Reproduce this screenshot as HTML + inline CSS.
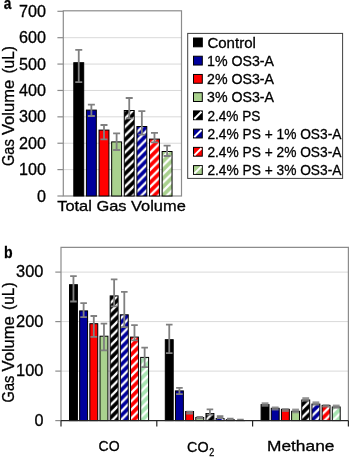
<!DOCTYPE html><html><head><meta charset="utf-8"><style>html,body{margin:0;padding:0;background:#fff;width:350px;height:457px;overflow:hidden}svg{display:block;filter:blur(0.35px)}text{font-family:"Liberation Sans",sans-serif;stroke:#000;stroke-width:0.3px}</style></head><body><svg width="350" height="457" viewBox="0 0 350 457" font-family='"Liberation Sans", sans-serif' fill="#000"><defs><pattern id="pk" patternUnits="userSpaceOnUse" x="5.5" y="0" width="8.5" height="8.5"><rect width="8.5" height="8.5" fill="#000"/><polygon points="6.9,0 8.5,0 8.5,1.6 1.6,8.5 0,8.5 0,6.9" fill="#fff"/><polygon points="0,0 1.6,0 0,1.6" fill="#fff"/><polygon points="8.5,8.5 6.9,8.5 8.5,6.9" fill="#fff"/></pattern><pattern id="pb" patternUnits="userSpaceOnUse" x="5.5" y="0" width="8.5" height="8.5"><rect width="8.5" height="8.5" fill="#00009c"/><polygon points="6.9,0 8.5,0 8.5,1.6 1.6,8.5 0,8.5 0,6.9" fill="#fff"/><polygon points="0,0 1.6,0 0,1.6" fill="#fff"/><polygon points="8.5,8.5 6.9,8.5 8.5,6.9" fill="#fff"/></pattern><pattern id="pr" patternUnits="userSpaceOnUse" x="5.5" y="0" width="8.5" height="8.5"><rect width="8.5" height="8.5" fill="#ff0000"/><polygon points="6.9,0 8.5,0 8.5,1.6 1.6,8.5 0,8.5 0,6.9" fill="#fff"/><polygon points="0,0 1.6,0 0,1.6" fill="#fff"/><polygon points="8.5,8.5 6.9,8.5 8.5,6.9" fill="#fff"/></pattern><pattern id="pg" patternUnits="userSpaceOnUse" x="5.5" y="0" width="8.5" height="8.5"><rect width="8.5" height="8.5" fill="#a9d18e"/><polygon points="6.9,0 8.5,0 8.5,1.6 1.6,8.5 0,8.5 0,6.9" fill="#fff"/><polygon points="0,0 1.6,0 0,1.6" fill="#fff"/><polygon points="8.5,8.5 6.9,8.5 8.5,6.9" fill="#fff"/></pattern><pattern id="pg2" patternUnits="userSpaceOnUse" x="5.5" y="0" width="8.5" height="8.5"><rect width="8.5" height="8.5" fill="#a8e4b2"/><polygon points="6.9,0 8.5,0 8.5,1.6 1.6,8.5 0,8.5 0,6.9" fill="#fff"/><polygon points="0,0 1.6,0 0,1.6" fill="#fff"/><polygon points="8.5,8.5 6.9,8.5 8.5,6.9" fill="#fff"/></pattern></defs><line x1="63.3" x2="181.5" y1="169.61" y2="169.61" stroke="#d9d9d9" stroke-width="1"/><line x1="63.3" x2="181.5" y1="143.23" y2="143.23" stroke="#d9d9d9" stroke-width="1"/><line x1="63.3" x2="181.5" y1="116.84" y2="116.84" stroke="#d9d9d9" stroke-width="1"/><line x1="63.3" x2="181.5" y1="90.46" y2="90.46" stroke="#d9d9d9" stroke-width="1"/><line x1="63.3" x2="181.5" y1="64.07" y2="64.07" stroke="#d9d9d9" stroke-width="1"/><line x1="63.3" x2="181.5" y1="37.69" y2="37.69" stroke="#d9d9d9" stroke-width="1"/><rect x="63.3" y="10.8" width="118.2" height="185.2" fill="none" stroke="#8c8c8c" stroke-width="1.2"/><line x1="57.4" x2="63.3" y1="196" y2="196" stroke="#8c8c8c" stroke-width="1.2"/><line x1="57.4" x2="63.3" y1="169.61" y2="169.61" stroke="#8c8c8c" stroke-width="1.2"/><line x1="57.4" x2="63.3" y1="143.23" y2="143.23" stroke="#8c8c8c" stroke-width="1.2"/><line x1="57.4" x2="63.3" y1="116.84" y2="116.84" stroke="#8c8c8c" stroke-width="1.2"/><line x1="57.4" x2="63.3" y1="90.46" y2="90.46" stroke="#8c8c8c" stroke-width="1.2"/><line x1="57.4" x2="63.3" y1="64.07" y2="64.07" stroke="#8c8c8c" stroke-width="1.2"/><line x1="57.4" x2="63.3" y1="37.69" y2="37.69" stroke="#8c8c8c" stroke-width="1.2"/><line x1="57.4" x2="63.3" y1="11.3" y2="11.3" stroke="#8c8c8c" stroke-width="1.2"/><text x="46" y="201.5" font-size="15.6" text-anchor="end" font-weight="normal" textLength="9" lengthAdjust="spacingAndGlyphs">0</text><text x="46" y="175.11" font-size="15.6" text-anchor="end" font-weight="normal" textLength="27" lengthAdjust="spacingAndGlyphs">100</text><text x="46" y="148.73" font-size="15.6" text-anchor="end" font-weight="normal" textLength="27" lengthAdjust="spacingAndGlyphs">200</text><text x="46" y="122.34" font-size="15.6" text-anchor="end" font-weight="normal" textLength="27" lengthAdjust="spacingAndGlyphs">300</text><text x="46" y="95.96" font-size="15.6" text-anchor="end" font-weight="normal" textLength="27" lengthAdjust="spacingAndGlyphs">400</text><text x="46" y="69.57" font-size="15.6" text-anchor="end" font-weight="normal" textLength="27" lengthAdjust="spacingAndGlyphs">500</text><text x="46" y="43.19" font-size="15.6" text-anchor="end" font-weight="normal" textLength="27" lengthAdjust="spacingAndGlyphs">600</text><text x="46" y="16.8" font-size="15.6" text-anchor="end" font-weight="normal" textLength="27" lengthAdjust="spacingAndGlyphs">700</text><rect x="73.8" y="62.7" width="9.9" height="133.3" fill="#000" stroke="#000" stroke-width="1"/><rect x="86.42" y="110.1" width="9.9" height="85.9" fill="#00009c" stroke="#000" stroke-width="1"/><rect x="99.04" y="130.1" width="9.9" height="65.9" fill="#ff0000" stroke="#000" stroke-width="1"/><rect x="111.66" y="141.9" width="9.9" height="54.1" fill="#a9d18e" stroke="#000" stroke-width="1"/><rect x="124.28" y="110.5" width="9.9" height="85.5" fill="url(#pk)" stroke="#000" stroke-width="1"/><rect x="136.9" y="126.5" width="9.9" height="69.5" fill="url(#pb)" stroke="#000" stroke-width="1"/><rect x="149.52" y="139.1" width="9.9" height="56.9" fill="url(#pr)" stroke="#000" stroke-width="1"/><rect x="162.14" y="151.5" width="9.9" height="44.5" fill="url(#pg)" stroke="#000" stroke-width="1"/><path d="M78.75 49.9V82.2M75.25 49.9H82.25M75.25 82.2H82.25" stroke="#808080" stroke-width="1.8" fill="none"/><path d="M91.37 104.6V116M87.87 104.6H94.87M87.87 116H94.87" stroke="#808080" stroke-width="1.8" fill="none"/><path d="M103.99 125V139.4M100.49 125H107.49M100.49 139.4H107.49" stroke="#808080" stroke-width="1.8" fill="none"/><path d="M116.61 133.4V150M113.11 133.4H120.11M113.11 150H120.11" stroke="#808080" stroke-width="1.8" fill="none"/><path d="M129.23 98V118.3M125.73 98H132.73M125.73 118.3H132.73" stroke="#808080" stroke-width="1.8" fill="none"/><path d="M141.85 111.1V134.6M138.35 111.1H145.35M138.35 134.6H145.35" stroke="#808080" stroke-width="1.8" fill="none"/><path d="M154.47 132.8V142.4M150.97 132.8H157.97M150.97 142.4H157.97" stroke="#808080" stroke-width="1.8" fill="none"/><path d="M167.09 145.6V156M163.59 145.6H170.59M163.59 156H170.59" stroke="#808080" stroke-width="1.8" fill="none"/><text x="3.7" y="9.3" font-size="17.2" text-anchor="start" font-weight="bold" textLength="7.6" lengthAdjust="spacingAndGlyphs">a</text><text transform="translate(13.6 166) rotate(-90)" font-size="15.6" textLength="26.8" lengthAdjust="spacingAndGlyphs">Gas</text><text transform="translate(13.6 135) rotate(-90)" font-size="15.6" textLength="55.2" lengthAdjust="spacingAndGlyphs">Volume</text><text transform="translate(13.6 73.6) rotate(-90)" font-size="15.6" textLength="27.6" lengthAdjust="spacingAndGlyphs">(uL)</text><text x="57.2" y="211" font-size="15" text-anchor="start" font-weight="normal" textLength="128.6" lengthAdjust="spacingAndGlyphs">Total Gas Volume</text><rect x="187.7" y="33.4" width="154.9" height="145" fill="#fff" stroke="#404040" stroke-width="1"/><rect x="193.5" y="38" width="8.8" height="8.8" fill="#000" stroke="#000" stroke-width="1"/><text x="207.4" y="47.7" font-size="14.6" text-anchor="start" font-weight="normal" textLength="48.5" lengthAdjust="spacingAndGlyphs">Control</text><rect x="193.5" y="56.23" width="8.8" height="8.8" fill="#00009c" stroke="#000" stroke-width="1"/><text x="207" y="65.93" font-size="14.6" text-anchor="start" font-weight="normal" textLength="67" lengthAdjust="spacingAndGlyphs">1% OS3-A</text><rect x="193.5" y="74.46" width="8.8" height="8.8" fill="#ff0000" stroke="#000" stroke-width="1"/><text x="207" y="84.16" font-size="14.6" text-anchor="start" font-weight="normal" textLength="67" lengthAdjust="spacingAndGlyphs">2% OS3-A</text><rect x="193.5" y="92.69" width="8.8" height="8.8" fill="#a9d18e" stroke="#000" stroke-width="1"/><text x="207" y="102.39" font-size="14.6" text-anchor="start" font-weight="normal" textLength="67" lengthAdjust="spacingAndGlyphs">3% OS3-A</text><rect x="193.5" y="110.92" width="8.8" height="8.8" fill="#000" stroke="#000" stroke-width="1"/><line x1="194.3" y1="118.92" x2="201.5" y2="111.72" stroke="#fff" stroke-width="2"/><text x="207.4" y="120.62" font-size="14.6" text-anchor="start" font-weight="normal" textLength="53" lengthAdjust="spacingAndGlyphs">2.4% PS</text><rect x="193.5" y="129.15" width="8.8" height="8.8" fill="#00009c" stroke="#000" stroke-width="1"/><line x1="194.3" y1="137.15" x2="201.5" y2="129.95" stroke="#fff" stroke-width="2"/><text x="207.4" y="138.85" font-size="14.6" text-anchor="start" font-weight="normal" textLength="134" lengthAdjust="spacingAndGlyphs">2.4% PS + 1% OS3-A</text><rect x="193.5" y="147.38" width="8.8" height="8.8" fill="#ff0000" stroke="#000" stroke-width="1"/><line x1="194.3" y1="155.38" x2="201.5" y2="148.18" stroke="#fff" stroke-width="2"/><text x="207.4" y="157.08" font-size="14.6" text-anchor="start" font-weight="normal" textLength="134" lengthAdjust="spacingAndGlyphs">2.4% PS + 2% OS3-A</text><rect x="193.5" y="165.61" width="8.8" height="8.8" fill="#a9d18e" stroke="#000" stroke-width="1"/><line x1="194.3" y1="173.61" x2="201.5" y2="166.41" stroke="#fff" stroke-width="2"/><text x="207.4" y="175.31" font-size="14.6" text-anchor="start" font-weight="normal" textLength="134" lengthAdjust="spacingAndGlyphs">2.4% PS + 3% OS3-A</text><line x1="61.0" x2="348.4" y1="371.1" y2="371.1" stroke="#d9d9d9" stroke-width="1"/><line x1="61.0" x2="348.4" y1="321.6" y2="321.6" stroke="#d9d9d9" stroke-width="1"/><line x1="61.0" x2="348.4" y1="272.1" y2="272.1" stroke="#d9d9d9" stroke-width="1"/><path d="M61.0 420.6V247.4H348.4V420.6" fill="none" stroke="#8c8c8c" stroke-width="1.2"/><line x1="55.3" x2="61.0" y1="420.6" y2="420.6" stroke="#8c8c8c" stroke-width="1.2"/><text x="43.4" y="425.9" font-size="15.6" text-anchor="end" font-weight="normal" textLength="9" lengthAdjust="spacingAndGlyphs">0</text><line x1="55.3" x2="61.0" y1="371.1" y2="371.1" stroke="#8c8c8c" stroke-width="1.2"/><text x="43.4" y="376.4" font-size="15.6" text-anchor="end" font-weight="normal" textLength="27.4" lengthAdjust="spacingAndGlyphs">100</text><line x1="55.3" x2="61.0" y1="321.6" y2="321.6" stroke="#8c8c8c" stroke-width="1.2"/><text x="43.4" y="326.9" font-size="15.6" text-anchor="end" font-weight="normal" textLength="27.4" lengthAdjust="spacingAndGlyphs">200</text><line x1="55.3" x2="61.0" y1="272.1" y2="272.1" stroke="#8c8c8c" stroke-width="1.2"/><text x="43.4" y="277.4" font-size="15.6" text-anchor="end" font-weight="normal" textLength="27.4" lengthAdjust="spacingAndGlyphs">300</text><rect x="69.5" y="284.7" width="7.9" height="135.9" fill="#000" stroke="#000" stroke-width="1"/><rect x="79.67" y="310.9" width="7.9" height="109.7" fill="#00009c" stroke="#000" stroke-width="1"/><rect x="89.84" y="323.7" width="7.9" height="96.9" fill="#ff0000" stroke="#000" stroke-width="1"/><rect x="100.01" y="336.2" width="7.9" height="84.4" fill="#a9d18e" stroke="#000" stroke-width="1"/><rect x="110.18" y="295.9" width="7.9" height="124.7" fill="url(#pk)" stroke="#000" stroke-width="1"/><rect x="120.35" y="314.8" width="7.9" height="105.8" fill="url(#pb)" stroke="#000" stroke-width="1"/><rect x="130.52" y="337.1" width="7.9" height="83.5" fill="url(#pr)" stroke="#000" stroke-width="1"/><rect x="140.69" y="357.4" width="7.9" height="63.2" fill="url(#pg2)" stroke="#000" stroke-width="1"/><path d="M73.45 276.1V301.5M70.15 276.1H76.75M70.15 301.5H76.75" stroke="#808080" stroke-width="1.8" fill="none"/><path d="M83.62 303.2V317.1M80.32 303.2H86.92M80.32 317.1H86.92" stroke="#808080" stroke-width="1.8" fill="none"/><path d="M93.79 316V336.8M90.49 316H97.09M90.49 336.8H97.09" stroke="#808080" stroke-width="1.8" fill="none"/><path d="M103.96 323.7V350.3M100.66 323.7H107.26M100.66 350.3H107.26" stroke="#808080" stroke-width="1.8" fill="none"/><path d="M114.13 279.4V306.4M110.83 279.4H117.43M110.83 306.4H117.43" stroke="#808080" stroke-width="1.8" fill="none"/><path d="M124.3 291.8V327.2M121 291.8H127.6M121 327.2H127.6" stroke="#808080" stroke-width="1.8" fill="none"/><path d="M134.47 325.1V340.3M131.17 325.1H137.77M131.17 340.3H137.77" stroke="#808080" stroke-width="1.8" fill="none"/><path d="M144.64 347.7V367.1M141.34 347.7H147.94M141.34 367.1H147.94" stroke="#808080" stroke-width="1.8" fill="none"/><rect x="165.3" y="339.7" width="7.9" height="80.9" fill="#000" stroke="#000" stroke-width="1"/><rect x="175.47" y="390.9" width="7.9" height="29.7" fill="#00009c" stroke="#000" stroke-width="1"/><rect x="185.64" y="411.5" width="7.9" height="9.1" fill="#ff0000" stroke="#000" stroke-width="1"/><rect x="195.81" y="417.5" width="7.9" height="3.1" fill="#a9d18e" stroke="#000" stroke-width="1"/><rect x="205.98" y="413.5" width="7.9" height="7.1" fill="url(#pk)" stroke="#000" stroke-width="1"/><rect x="216.15" y="418.5" width="7.9" height="2.1" fill="url(#pb)" stroke="#000" stroke-width="1"/><rect x="226.32" y="419.7" width="7.9" height="0.9" fill="url(#pr)" stroke="#000" stroke-width="1"/><rect x="236.49" y="420.5" width="7.9" height="0.1" fill="url(#pg2)" stroke="#000" stroke-width="1"/><path d="M169.25 324.6V353.1M165.95 324.6H172.55M165.95 353.1H172.55" stroke="#808080" stroke-width="1.8" fill="none"/><path d="M179.42 387.9V394.1M176.12 387.9H182.72M176.12 394.1H182.72" stroke="#808080" stroke-width="1.8" fill="none"/><path d="M189.59 411.6V413.6M186.29 411.6H192.89M186.29 413.6H192.89" stroke="#808080" stroke-width="1.8" fill="none"/><path d="M199.76 416.8V418.4M196.46 416.8H203.06M196.46 418.4H203.06" stroke="#808080" stroke-width="1.8" fill="none"/><path d="M209.93 409.4V414.6M206.63 409.4H213.23M206.63 414.6H213.23" stroke="#808080" stroke-width="1.8" fill="none"/><path d="M220.1 416.2V418M216.8 416.2H223.4M216.8 418H223.4" stroke="#808080" stroke-width="1.8" fill="none"/><path d="M230.27 418.6V419.6M226.97 418.6H233.57M226.97 419.6H233.57" stroke="#808080" stroke-width="1.8" fill="none"/><path d="M240.44 419.6V420.2M237.14 419.6H243.74M237.14 420.2H243.74" stroke="#808080" stroke-width="1.8" fill="none"/><rect x="261.1" y="404.6" width="7.9" height="16" fill="#000" stroke="#000" stroke-width="1"/><rect x="271.27" y="408.3" width="7.9" height="12.3" fill="#00009c" stroke="#000" stroke-width="1"/><rect x="281.44" y="409.3" width="7.9" height="11.3" fill="#ff0000" stroke="#000" stroke-width="1"/><rect x="291.61" y="411.3" width="7.9" height="9.3" fill="#a9d18e" stroke="#000" stroke-width="1"/><rect x="301.78" y="400" width="7.9" height="20.6" fill="url(#pk)" stroke="#000" stroke-width="1"/><rect x="311.95" y="404.1" width="7.9" height="16.5" fill="url(#pb)" stroke="#000" stroke-width="1"/><rect x="322.12" y="405.4" width="7.9" height="15.2" fill="url(#pr)" stroke="#000" stroke-width="1"/><rect x="332.29" y="407" width="7.9" height="13.6" fill="url(#pg2)" stroke="#000" stroke-width="1"/><rect x="261.65" y="402.3" width="6.8" height="4.4" fill="#808080" fill-opacity="0.85"/><rect x="271.82" y="406.5" width="6.8" height="4" fill="#808080" fill-opacity="0.85"/><rect x="281.99" y="408.2" width="6.8" height="3.7" fill="#808080" fill-opacity="0.85"/><rect x="292.16" y="408.6" width="6.8" height="4.7" fill="#808080" fill-opacity="0.85"/><rect x="302.33" y="397.2" width="6.8" height="4.4" fill="#808080" fill-opacity="0.85"/><rect x="312.5" y="401.4" width="6.8" height="4.2" fill="#808080" fill-opacity="0.85"/><rect x="322.67" y="404.3" width="6.8" height="3.2" fill="#808080" fill-opacity="0.85"/><rect x="332.84" y="404.6" width="6.8" height="4.1" fill="#808080" fill-opacity="0.85"/><line x1="61.0" x2="348.4" y1="420.6" y2="420.6" stroke="#262626" stroke-width="1.2"/><line x1="61" x2="61" y1="420.6" y2="426.4" stroke="#262626" stroke-width="1.2"/><line x1="156.8" x2="156.8" y1="420.6" y2="426.4" stroke="#262626" stroke-width="1.2"/><line x1="252.6" x2="252.6" y1="420.6" y2="426.4" stroke="#262626" stroke-width="1.2"/><line x1="348.4" x2="348.4" y1="420.6" y2="426.4" stroke="#262626" stroke-width="1.2"/><text x="3.9" y="258.4" font-size="17.4" text-anchor="start" font-weight="bold" textLength="8.6" lengthAdjust="spacingAndGlyphs">b</text><text transform="translate(13.6 402.4) rotate(-90)" font-size="15.6" textLength="26.8" lengthAdjust="spacingAndGlyphs">Gas</text><text transform="translate(13.6 371.4) rotate(-90)" font-size="15.6" textLength="55.2" lengthAdjust="spacingAndGlyphs">Volume</text><text transform="translate(13.6 310) rotate(-90)" font-size="15.6" textLength="27.6" lengthAdjust="spacingAndGlyphs">(uL)</text><text x="98.6" y="450.6" font-size="15" text-anchor="start" font-weight="normal" textLength="21" lengthAdjust="spacingAndGlyphs">CO</text><text x="187.1" y="452" font-size="15" text-anchor="start" font-weight="normal" textLength="21.5" lengthAdjust="spacingAndGlyphs">CO</text><text x="209.3" y="455.8" font-size="10.4" text-anchor="start" font-weight="normal" textLength="5" lengthAdjust="spacingAndGlyphs">2</text><text x="267" y="450.6" font-size="15" text-anchor="start" font-weight="normal" textLength="67.4" lengthAdjust="spacingAndGlyphs">Methane</text></svg></body></html>
